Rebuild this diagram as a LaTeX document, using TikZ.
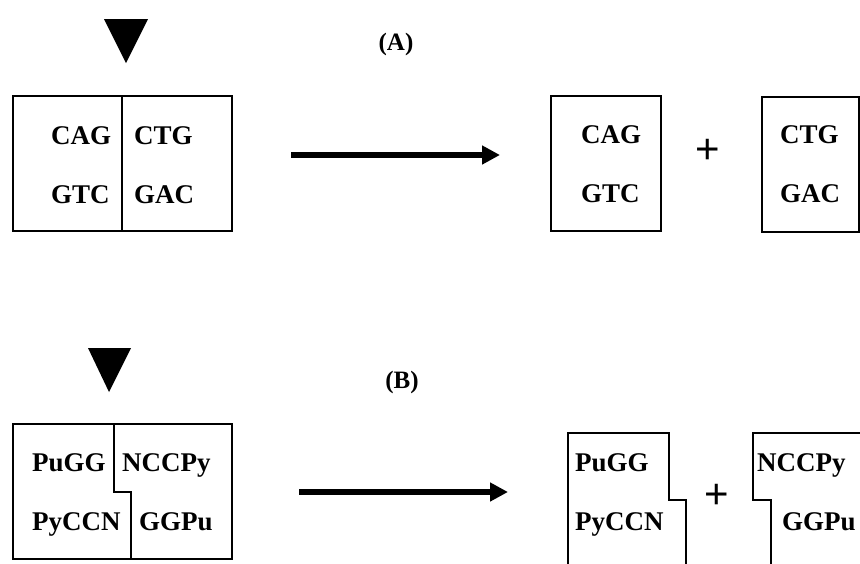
\documentclass[tikz,border=0pt]{standalone}
\usepackage{fontspec}
\setmainfont{Liberation Serif}
\newfontfamily\plusfont{Liberation Sans}
\usetikzlibrary{arrows.meta}
\begin{document}
\begin{tikzpicture}[x=1pt,y=-1pt,
  boxline/.style={line width=1.6pt, line join=miter},
  seq/.style={font=\fontsize{27}{32}\selectfont\bfseries, inner sep=0pt, anchor=base west},
  lbl/.style={font=\fontsize{25}{30}\selectfont\bfseries, inner sep=0pt, anchor=base},
  plussign/.style={font=\plusfont\fontsize{42}{48}\selectfont, inner sep=0pt, anchor=base},
  cutmark/.style={fill=black},
  bigarrow/.style={line width=5.3pt, -{Triangle[length=18pt,width=18pt]}}]
\useasboundingbox (0,0) rectangle (860,563);

% ---------- (A) ----------
\fill[cutmark] (104,19) -- (148,19) -- (126,63) -- cycle;
\node[lbl] (labA) at (396,50) {(A)};

\draw[boxline] (13,96) rectangle (232,231);
\draw[boxline] (122,96) -- (122,231);
\node[seq] (a1) at (51,144) {CAG};
\node[seq] (a2) at (134,144) {CTG};
\node[seq] (a3) at (51,203) {GTC};
\node[seq] (a4) at (134,203) {GAC};

\coordinate (aS) at (291,155);
\coordinate (aE) at (500,155);
\draw[bigarrow] (aS) -- (aE);

\draw[boxline] (551,96) rectangle (661,231);
\node[seq] (a5) at (581,143) {CAG};
\node[seq] (a6) at (581,202) {GTC};
\node[plussign] (plusA) at (708,163) {+};
\draw[boxline] (762,97) rectangle (859,232);
\node[seq] (a7) at (780,143) {CTG};
\node[seq] (a8) at (780,202) {GAC};

% ---------- (B) ----------
\fill[cutmark] (88,348) -- (131,348) -- (109,392) -- cycle;
\node[lbl] (labB) at (402,388) {(B)};

\draw[boxline] (13,424) rectangle (232,559);
\draw[boxline] (114,424) -- (114,492) -- (131,492) -- (131,559);
\node[seq] (b1) at (32,471) {PuGG};
\node[seq] (b2) at (122,471) {NCCPy};
\node[seq] (b3) at (32,530) {PyCCN};
\node[seq] (b4) at (139,530) {GGPu};

\coordinate (bS) at (299,492);
\coordinate (bE) at (508,492);
\draw[bigarrow] (bS) -- (bE);

\draw[boxline] (568,566) -- (568,433) -- (669,433) -- (669,500) -- (686,500) -- (686,566);
\node[seq] (b5) at (575,471) {PuGG};
\node[seq] (b6) at (575,530) {PyCCN};
\node[plussign] (plusB) at (717,508) {+};
\draw[boxline] (863,433) -- (753,433) -- (753,500) -- (771,500) -- (771,566);
\node[seq] (b7) at (757,471) {NCCPy};
\node[seq] (b8) at (782,530) {GGPu};
\end{tikzpicture}
\end{document}
